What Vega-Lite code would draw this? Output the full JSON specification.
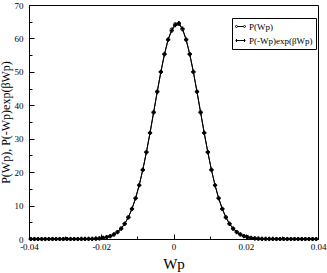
{
  "$schema": "https://vega.github.io/schema/vega-lite/v6.json",
  "width": 289,
  "height": 234,
  "autosize": {"type": "none"},
  "padding": {"left": 29, "top": 5, "right": 9, "bottom": 34},
  "config": {
    "view": {"stroke": "black", "strokeWidth": 1},
    "font": "Liberation Serif",
    "axis": {"labelFont": "Liberation Serif", "titleFont": "Liberation Serif", "labelColor": "black", "titleColor": "black", "domainColor": "black", "tickColor": "black", "grid": false, "titleFontWeight": "normal"}
  },
  "data": {"values": [
    {"x": -0.0395, "p": 0, "q": 0}, {"x": -0.0385, "p": 0, "q": 0}, {"x": -0.0375, "p": 0, "q": 0}, {"x": -0.0365, "p": 0, "q": 0},
    {"x": -0.0355, "p": 0, "q": 0}, {"x": -0.0345, "p": 0, "q": 0}, {"x": -0.0335, "p": 0, "q": 0}, {"x": -0.0325, "p": 0, "q": 0},
    {"x": -0.0315, "p": 0, "q": 0}, {"x": -0.0305, "p": 0, "q": 0}, {"x": -0.0295, "p": 0, "q": 0}, {"x": -0.0285, "p": 0, "q": 0},
    {"x": -0.0275, "p": 0, "q": 0}, {"x": -0.0265, "p": 0, "q": 0},
    {"x": -0.0255, "p": 0.01, "q": 0.01}, {"x": -0.0245, "p": 0.02, "q": 0.02}, {"x": -0.0235, "p": 0.03, "q": 0.03},
    {"x": -0.0225, "p": 0.06, "q": 0.06}, {"x": -0.0215, "p": 0.11, "q": 0.11}, {"x": -0.0205, "p": 0.19, "q": 0.19},
    {"x": -0.0195, "p": 0.32, "q": 0.32}, {"x": -0.0185, "p": 0.54, "q": 0.54}, {"x": -0.0175, "p": 0.86, "q": 0.86},
    {"x": -0.0165, "p": 1.36, "q": 1.36}, {"x": -0.0155, "p": 2.09, "q": 2.09}, {"x": -0.0145, "p": 3.13, "q": 3.13},
    {"x": -0.0135, "p": 4.56, "q": 4.56}, {"x": -0.0125, "p": 6.49, "q": 6.49}, {"x": -0.0115, "p": 9.01, "q": 9.01},
    {"x": -0.0105, "p": 12.19, "q": 12.19}, {"x": -0.0095, "p": 16.08, "q": 16.08}, {"x": -0.0085, "p": 20.69, "q": 20.69},
    {"x": -0.0075, "p": 25.96, "q": 25.96}, {"x": -0.0065, "p": 31.75, "q": 31.75}, {"x": -0.0055, "p": 37.88, "q": 37.88},
    {"x": -0.0045, "p": 44.06, "q": 44.06}, {"x": -0.0035, "p": 49.97, "q": 49.97}, {"x": -0.0025, "p": 55.28, "q": 55.28},
    {"x": -0.0015, "p": 59.62, "q": 59.62}, {"x": -0.0005, "p": 62.7, "q": 62.3}, {"x": 0.0005, "p": 64.3, "q": 64.0},
    {"x": 0.0015, "p": 64.3, "q": 64.6}, {"x": 0.0025, "p": 62.7, "q": 62.9}, {"x": 0.0035, "p": 59.62, "q": 59.62},
    {"x": 0.0045, "p": 55.28, "q": 55.28}, {"x": 0.0055, "p": 49.97, "q": 49.97}, {"x": 0.0065, "p": 44.06, "q": 44.06},
    {"x": 0.0075, "p": 37.88, "q": 37.88}, {"x": 0.0085, "p": 31.75, "q": 31.75}, {"x": 0.0095, "p": 25.96, "q": 25.96},
    {"x": 0.0105, "p": 20.69, "q": 20.69}, {"x": 0.0115, "p": 16.08, "q": 16.08}, {"x": 0.0125, "p": 12.19, "q": 12.19},
    {"x": 0.0135, "p": 9.01, "q": 9.01}, {"x": 0.0145, "p": 6.49, "q": 6.49}, {"x": 0.0155, "p": 4.56, "q": 4.56},
    {"x": 0.0165, "p": 3.13, "q": 3.13}, {"x": 0.0175, "p": 2.09, "q": 2.09}, {"x": 0.0185, "p": 1.36, "q": 1.36},
    {"x": 0.0195, "p": 0.86, "q": 0.86}, {"x": 0.0205, "p": 0.54, "q": 0.54}, {"x": 0.0215, "p": 0.32, "q": 0.32},
    {"x": 0.0225, "p": 0.19, "q": 0.19}, {"x": 0.0235, "p": 0.11, "q": 0.11}, {"x": 0.0245, "p": 0.06, "q": 0.06},
    {"x": 0.0255, "p": 0.03, "q": 0.03}, {"x": 0.0265, "p": 0.02, "q": 0.02}, {"x": 0.0275, "p": 0.01, "q": 0.01},
    {"x": 0.0285, "p": 0, "q": 0}, {"x": 0.0295, "p": 0, "q": 0}, {"x": 0.0305, "p": 0, "q": 0}, {"x": 0.0315, "p": 0, "q": 0},
    {"x": 0.0325, "p": 0, "q": 0}, {"x": 0.0335, "p": 0, "q": 0}, {"x": 0.0345, "p": 0, "q": 0}, {"x": 0.0355, "p": 0, "q": 0},
    {"x": 0.0365, "p": 0, "q": 0}, {"x": 0.0375, "p": 0, "q": 0}, {"x": 0.0385, "p": 0, "q": 0}, {"x": 0.0395, "p": 0, "q": 0}
  ]},
  "transform": [{"fold": ["p", "q"], "as": ["series", "y"]}],
  "resolve": {"axis": {"x": "independent", "y": "independent"}},
  "layer": [
    {
      "mark": {"type": "line", "color": "black", "strokeWidth": 1},
      "encoding": {
        "x": {"field": "x", "type": "quantitative", "scale": {"domain": [-0.04, 0.04], "nice": false, "zero": false},
          "axis": {"orient": "bottom", "values": [-0.04, -0.02, 0, 0.02, 0.04], "labelExpr": "datum.value == 0 ? '0' : (datum.value < 0 ? '-' : '') + format(abs(datum.value), '.2f')", "tickSize": -5, "labelPadding": 8, "labelFontSize": 9, "title": "Wp", "titleFontSize": 15, "titlePadding": 5, "labelFlush": false}},
        "y": {"field": "y", "type": "quantitative", "scale": {"domain": [0, 70], "nice": false},
          "axis": {"orient": "left", "values": [0, 10, 20, 30, 40, 50, 60, 70], "tickSize": -5, "labelPadding": 11, "labelFontSize": 9, "title": "P(Wp), P(-Wp)exp(βWp)", "titleFontSize": 12, "titlePadding": 2}},
        "detail": {"field": "series"}
      }
    },
    {
      "transform": [{"filter": "datum.series == 'p'"}],
      "mark": {"type": "point", "shape": "circle", "filled": false, "color": "black", "strokeWidth": 0.8, "size": 10, "opacity": 1},
      "encoding": {
        "x": {"field": "x", "type": "quantitative",
          "axis": {"orient": "bottom", "values": [-0.03, -0.01, 0.01, 0.03], "tickSize": -3, "labels": false, "domain": false, "title": null}},
        "y": {"field": "y", "type": "quantitative",
          "axis": {"orient": "left", "values": [5, 15, 25, 35, 45, 55, 65], "tickSize": -3, "labels": false, "domain": false, "title": null}}
      }
    },
    {
      "transform": [{"filter": "datum.series == 'q'"}],
      "mark": {"type": "point", "shape": "cross", "filled": true, "color": "black", "size": 18, "opacity": 1},
      "encoding": {
        "x": {"field": "x", "type": "quantitative", "axis": null},
        "y": {"field": "y", "type": "quantitative", "axis": null}
      }
    },
    {
      "mark": {"type": "point", "filled": false, "opacity": 0},
      "encoding": {
        "x": {"field": "x", "type": "quantitative", "axis": null},
        "y": {"field": "y", "type": "quantitative", "axis": null},
        "shape": {"field": "series", "type": "nominal",
          "scale": {"domain": ["p", "q"], "range": ["M-0.6,0H0.6M-0.6,0A0.2,0.2 0 1 1 -1,0A0.2,0.2 0 1 1 -0.6,0M1,0A0.2,0.2 0 1 1 0.6,0A0.2,0.2 0 1 1 1,0", "M-1,0H1M-0.8,-0.3V0.3M0.8,-0.3V0.3"]},
          "legend": {"orient": "none", "legendX": 203, "legendY": 13, "title": null, "strokeColor": "black", "padding": 3,
            "symbolSize": 100, "symbolStrokeColor": "black", "symbolFillColor": "transparent", "symbolStrokeWidth": 1, "symbolOpacity": 1,
            "labelFont": "Liberation Serif", "labelFontSize": 9, "labelColor": "black", "labelOffset": 3, "rowPadding": 3,
            "labelExpr": "datum.label == 'p' ? 'P(Wp)' : 'P(-Wp)exp(βWp)'"}}
      }
    }
  ]
}
